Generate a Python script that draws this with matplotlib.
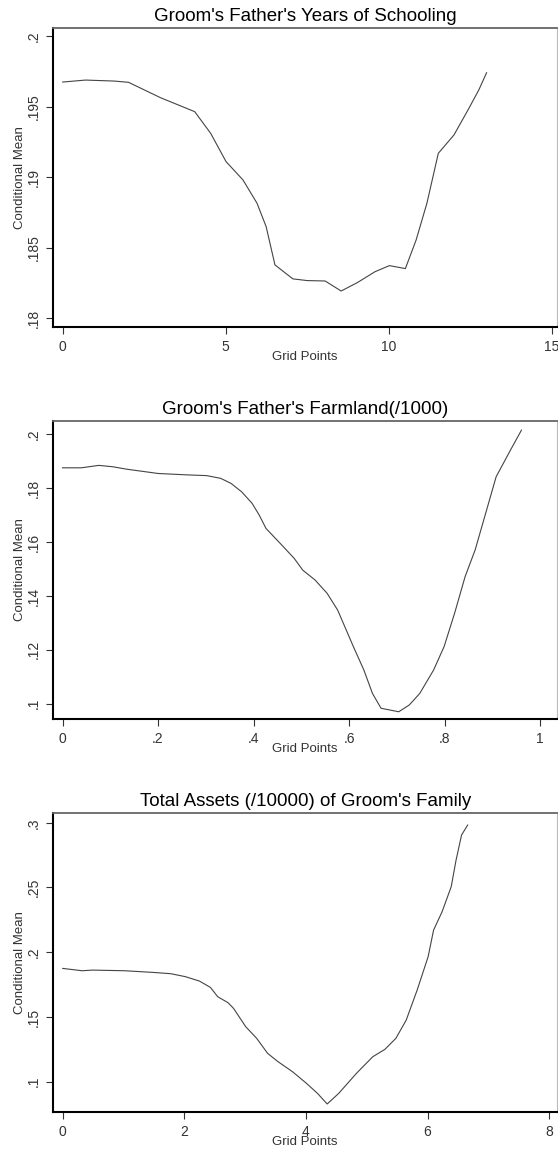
import matplotlib
matplotlib.use("Agg")
import matplotlib.pyplot as plt
from matplotlib.ticker import FuncFormatter, FixedLocator

plt.rcParams['font.family'] = ['Liberation Sans', 'DejaVu Sans']

# Panel 1: Groom's Father's Years of Schooling
school_x = [0, 0.70, 1.58, 2.02, 3.0, 4.05, 4.54, 5.01, 5.53, 5.96, 6.24, 6.51, 7.06, 7.5,
            8.05, 8.54, 9.04, 9.58, 10.02, 10.51, 10.84, 11.17, 11.52, 12.0, 12.43, 12.76, 13.0]
school_y = [.19674, .19688, .19681, .19672, .19563, .19464, .19310, .19110, .18980, .18815,
            .18649, .18378, .18279, .18267, .18264, .18193, .18253, .18330, .18373, .18352,
            .18555, .18815, .19169, .19299, .19476, .19617, .19740]

# Panel 2: Groom's Father's Farmland (/1000)
farm_x = [0, .039, .076, .105, .134, .200, .258, .302, .331, .353, .375, .397, .412, .426,
          .456, .485, .503, .529, .554, .576, .594, .609, .631, .649, .667, .704, .726, .748,
          .777, .799, .821, .843, .864, .886, .908, .938, .961]
farm_y = [.1876, .1876, .1885, .1880, .1871, .1855, .1850, .1847, .1837, .1818, .1787, .1744,
          .1700, .1651, .1595, .1540, .1496, .1459, .1410, .1348, .1274, .1212, .1125, .1038,
          .0983, .0970, .0995, .1038, .1125, .1212, .1336, .1472, .1571, .1707, .1843, .1942,
          .2016]

# Panel 3: Total Assets (/10000) of Groom's Family
asset_x = [0, .32, .49, 1.02, 1.49, 1.78, 2.02, 2.25, 2.43, 2.55, 2.72, 2.81, 3.01, 3.19,
           3.37, 3.54, 3.78, 4.01, 4.19, 4.35, 4.54, 4.83, 5.10, 5.30, 5.48, 5.65, 5.83,
           6.01, 6.10, 6.24, 6.39, 6.47, 6.56, 6.66]
asset_y = [.1875, .1857, .1862, .1857, .1844, .1834, .1811, .1777, .1728, .1656, .1610,
           .1566, .1425, .1335, .1219, .1155, .1077, .0987, .0910, .0828, .0910, .1064,
           .1193, .1250, .1335, .1476, .1708, .1965, .2171, .2313, .2506, .2712, .2905,
           .2982]

titles = ["Groom's Father's Years of Schooling",
          "Groom's Father's Farmland(/1000)",
          "Total Assets (/10000) of Groom's Family"]
xticks_list = [[0, 5, 10, 15], [0, .2, .4, .6, .8, 1], [0, 2, 4, 6, 8]]
yticks_list = [[.18, .185, .19, .195, .2], [.1, .12, .14, .16, .18, .2], [.1, .15, .2, .25, .3]]
xlims = [(-0.288, 15.16), (-0.0193, 1.0354), (-0.155, 8.13)]
ylims = [(.17938, .20057), (.0942, .2051), (.0766, .3073)]
series = [(school_x, school_y), (farm_x, farm_y), (asset_x, asset_y)]


def fmt(v, pos):
    s = ('%.3f' % v).rstrip('0').rstrip('.')
    if s.startswith('0.'):
        s = s[1:]
    if s == '':
        s = '0'
    return s


W, H = 558, 1154
fig = plt.figure(figsize=(W / 100, H / 100), dpi=100)
fig.patch.set_facecolor('white')

left_px, right_px = 53.3, 557.0
tops = [28.0, 420.7, 813.3]
bottoms = [327.0, 719.3, 1112.0]

for i in range(3):
    l = left_px / W
    w = (right_px - left_px) / W
    b = 1 - bottoms[i] / H
    h = (bottoms[i] - tops[i]) / H
    ax = fig.add_axes([l, b, w, h])
    x, y = series[i]
    ax.plot(x, y, color='#444444', lw=0.8)
    ax.set_xlim(*xlims[i])
    ax.set_ylim(*ylims[i])
    ax.xaxis.set_major_locator(FixedLocator(xticks_list[i]))
    ax.yaxis.set_major_locator(FixedLocator(yticks_list[i]))
    ax.xaxis.set_major_formatter(FuncFormatter(fmt))
    ax.yaxis.set_major_formatter(FuncFormatter(fmt))
    ax.tick_params(axis='both', direction='out', length=5, width=0.8, color='#333333',
                   labelsize=10, labelcolor='#333333', pad=4)
    for lab in ax.get_yticklabels():
        lab.set_rotation(90)
        lab.set_va('center')
    ax.spines['left'].set_color('black')
    ax.spines['left'].set_linewidth(1.5)
    ax.spines['bottom'].set_color('black')
    ax.spines['bottom'].set_linewidth(1.5)
    ax.spines['top'].set_color('#666666')
    ax.spines['top'].set_linewidth(1.3)
    ax.spines['right'].set_color('#bbbbbb')
    ax.spines['right'].set_linewidth(0.8)
    ax.set_title(titles[i], fontsize=13.5, color='black', pad=5)
    ax.set_ylabel('Conditional Mean', fontsize=9.5, color='#333333')
    ax.yaxis.set_label_coords(-(53.3 - 26) / (right_px - left_px), 0.5)
    ax.set_xlabel('Grid Points', fontsize=9.5, color='#333333', va='top')
    ax.xaxis.set_label_coords(0.5, -24.0 / (bottoms[i] - tops[i]))

fig.savefig('out.png', dpi=100, facecolor='white')
